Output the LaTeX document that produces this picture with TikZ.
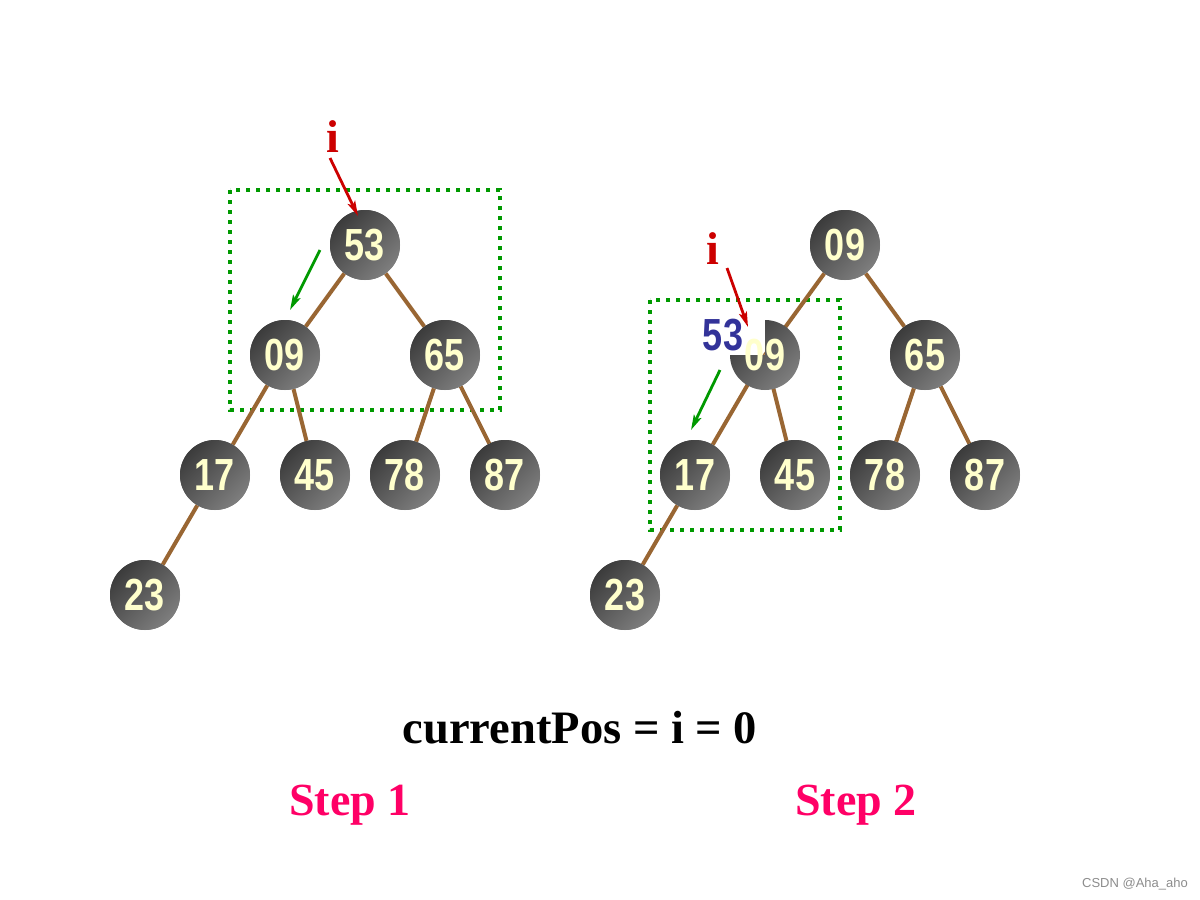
\documentclass[tikz,border=0pt]{standalone}
\usepackage{fontspec}
\setmainfont{Liberation Serif}
\newfontfamily\numfont{Liberation Sans}
\usetikzlibrary{arrows.meta}
\definecolor{edgebrown}{HTML}{996633}
\definecolor{boxgreen}{HTML}{009900}
\definecolor{ired}{HTML}{CC0000}
\definecolor{numyellow}{HTML}{FFFFCC}
\definecolor{stepmag}{HTML}{FF0066}
\definecolor{navyblue}{HTML}{333399}
\definecolor{ndark}{HTML}{3C3C3C}
\definecolor{nlight}{HTML}{7E7E7E}
\tikzset{
  hnode/.style={circle, minimum size=70pt, inner sep=0pt, top color=ndark, bottom color=nlight, shading angle=45,
    text=numyellow, font=\numfont\bfseries\fontsize{45}{45}\selectfont},
  hedge/.style={draw=edgebrown, line width=4pt},
  gbox/.style={draw=boxgreen, line width=4pt, dash pattern=on 4pt off 6pt},
  redarrow/.style={draw=ired, line width=2.8pt, -{Stealth[length=15pt,width=8pt,inset=3pt]}},
  greenarrow/.style={draw=boxgreen, line width=2.8pt, -{Stealth[length=15pt,width=8pt,inset=3pt]}},
  ilabel/.style={text=ired, font=\bfseries\fontsize{46}{46}\selectfont, inner sep=0pt},
  steplabel/.style={text=stepmag, font=\bfseries\fontsize{46}{46}\selectfont},
}
\newcommand{\nn}[1]{\scalebox{0.8}[1]{#1}}
\begin{document}
\begin{tikzpicture}[x=1pt, y=-1pt]
\useasboundingbox (0,0) rectangle (1200,900);
% ---------- Step 1 ----------
\draw[gbox] (230,190) rectangle (500,410);
\node[hnode] (a53) at (365,245) {};
\node[hnode] (a09) at (285,355) {};
\node[hnode] (a65) at (445,355) {};
\node[hnode] (a17) at (215,475) {};
\node[hnode] (a45) at (315,475) {};
\node[hnode] (a78) at (405,475) {};
\node[hnode] (a87) at (505,475) {};
\node[hnode] (a23) at (145,595) {};
\draw[hedge] (a53) -- (a09);
\draw[hedge] (a53) -- (a65);
\draw[hedge] (a09) -- (a17);
\draw[hedge] (a09) -- (a45);
\draw[hedge] (a65) -- (a78);
\draw[hedge] (a65) -- (a87);
\draw[hedge] (a17) -- (a23);
\node[hnode] at (a53) {\nn{53}};
\node[hnode] at (a09) {\nn{09}};
\node[hnode] at (a65) {\nn{65}};
\node[hnode] at (a17) {\nn{17}};
\node[hnode] at (a45) {\nn{45}};
\node[hnode] at (a78) {\nn{78}};
\node[hnode] at (a87) {\nn{87}};
\node[hnode] at (a23) {\nn{23}};
\node[ilabel] (ai) at (333,137) {i};
\coordinate (ait) at (330,158);
\coordinate (aih) at (358,216);
\draw[redarrow] (ait) -- (aih);
\coordinate (ag1) at (320,250);
\coordinate (ag2) at (290,310);
\draw[greenarrow] (ag1) -- (ag2);
% ---------- Step 2 ----------
\draw[gbox] (650,300) rectangle (840,530);
\node[hnode] (b09t) at (845,245) {};
\coordinate (b09) at (765,355);
\node[hnode] (b65) at (925,355) {};
\node[hnode] (b17) at (695,475) {};
\node[hnode] (b45) at (795,475) {};
\node[hnode] (b78) at (885,475) {};
\node[hnode] (b87) at (985,475) {};
\node[hnode] (b23) at (625,595) {};
\draw[hedge] (b09t) -- (b09);
\draw[hedge] (b09t) -- (b65);
\draw[hedge] (b09) -- (b17);
\draw[hedge] (b09) -- (b45);
\draw[hedge] (b65) -- (b78);
\draw[hedge] (b65) -- (b87);
\draw[hedge] (b17) -- (b23);
\shade[top color=ndark, bottom color=nlight, shading angle=45]
  (b09) -- ++(0,-35) arc[start angle=270, end angle=540, radius=35] -- cycle;
\node[text=numyellow, font=\numfont\bfseries\fontsize{45}{45}\selectfont] (b09l) at (b09) {\nn{09}};
\node[hnode] at (b09t) {\nn{09}};
\node[hnode] at (b65) {\nn{65}};
\node[hnode] at (b17) {\nn{17}};
\node[hnode] at (b45) {\nn{45}};
\node[hnode] at (b78) {\nn{78}};
\node[hnode] at (b87) {\nn{87}};
\node[hnode] at (b23) {\nn{23}};
\node[text=navyblue, font=\numfont\bfseries\fontsize{45}{45}\selectfont] (b53) at (723,335) {\nn{53}};
\node[ilabel] (bi) at (713,249) {i};
\coordinate (bit) at (727,268);
\coordinate (bih) at (748,327);
\draw[redarrow] (bit) -- (bih);
\coordinate (bg1) at (720,370);
\coordinate (bg2) at (691,430);
\draw[greenarrow] (bg1) -- (bg2);
% ---------- texts ----------
\node[font=\bfseries\fontsize{46.5}{46.5}\selectfont] (cp) at (580,728) {currentPos = i = 0};
\node[steplabel] (s1) at (350,805) {Step 1};
\node[steplabel] (s2) at (856,805) {Step 2};
\node[text=black!45, font=\numfont\fontsize{13}{13}\selectfont] (wm) at (1135,884) {CSDN @Aha\_aho};
\end{tikzpicture}
\end{document}
